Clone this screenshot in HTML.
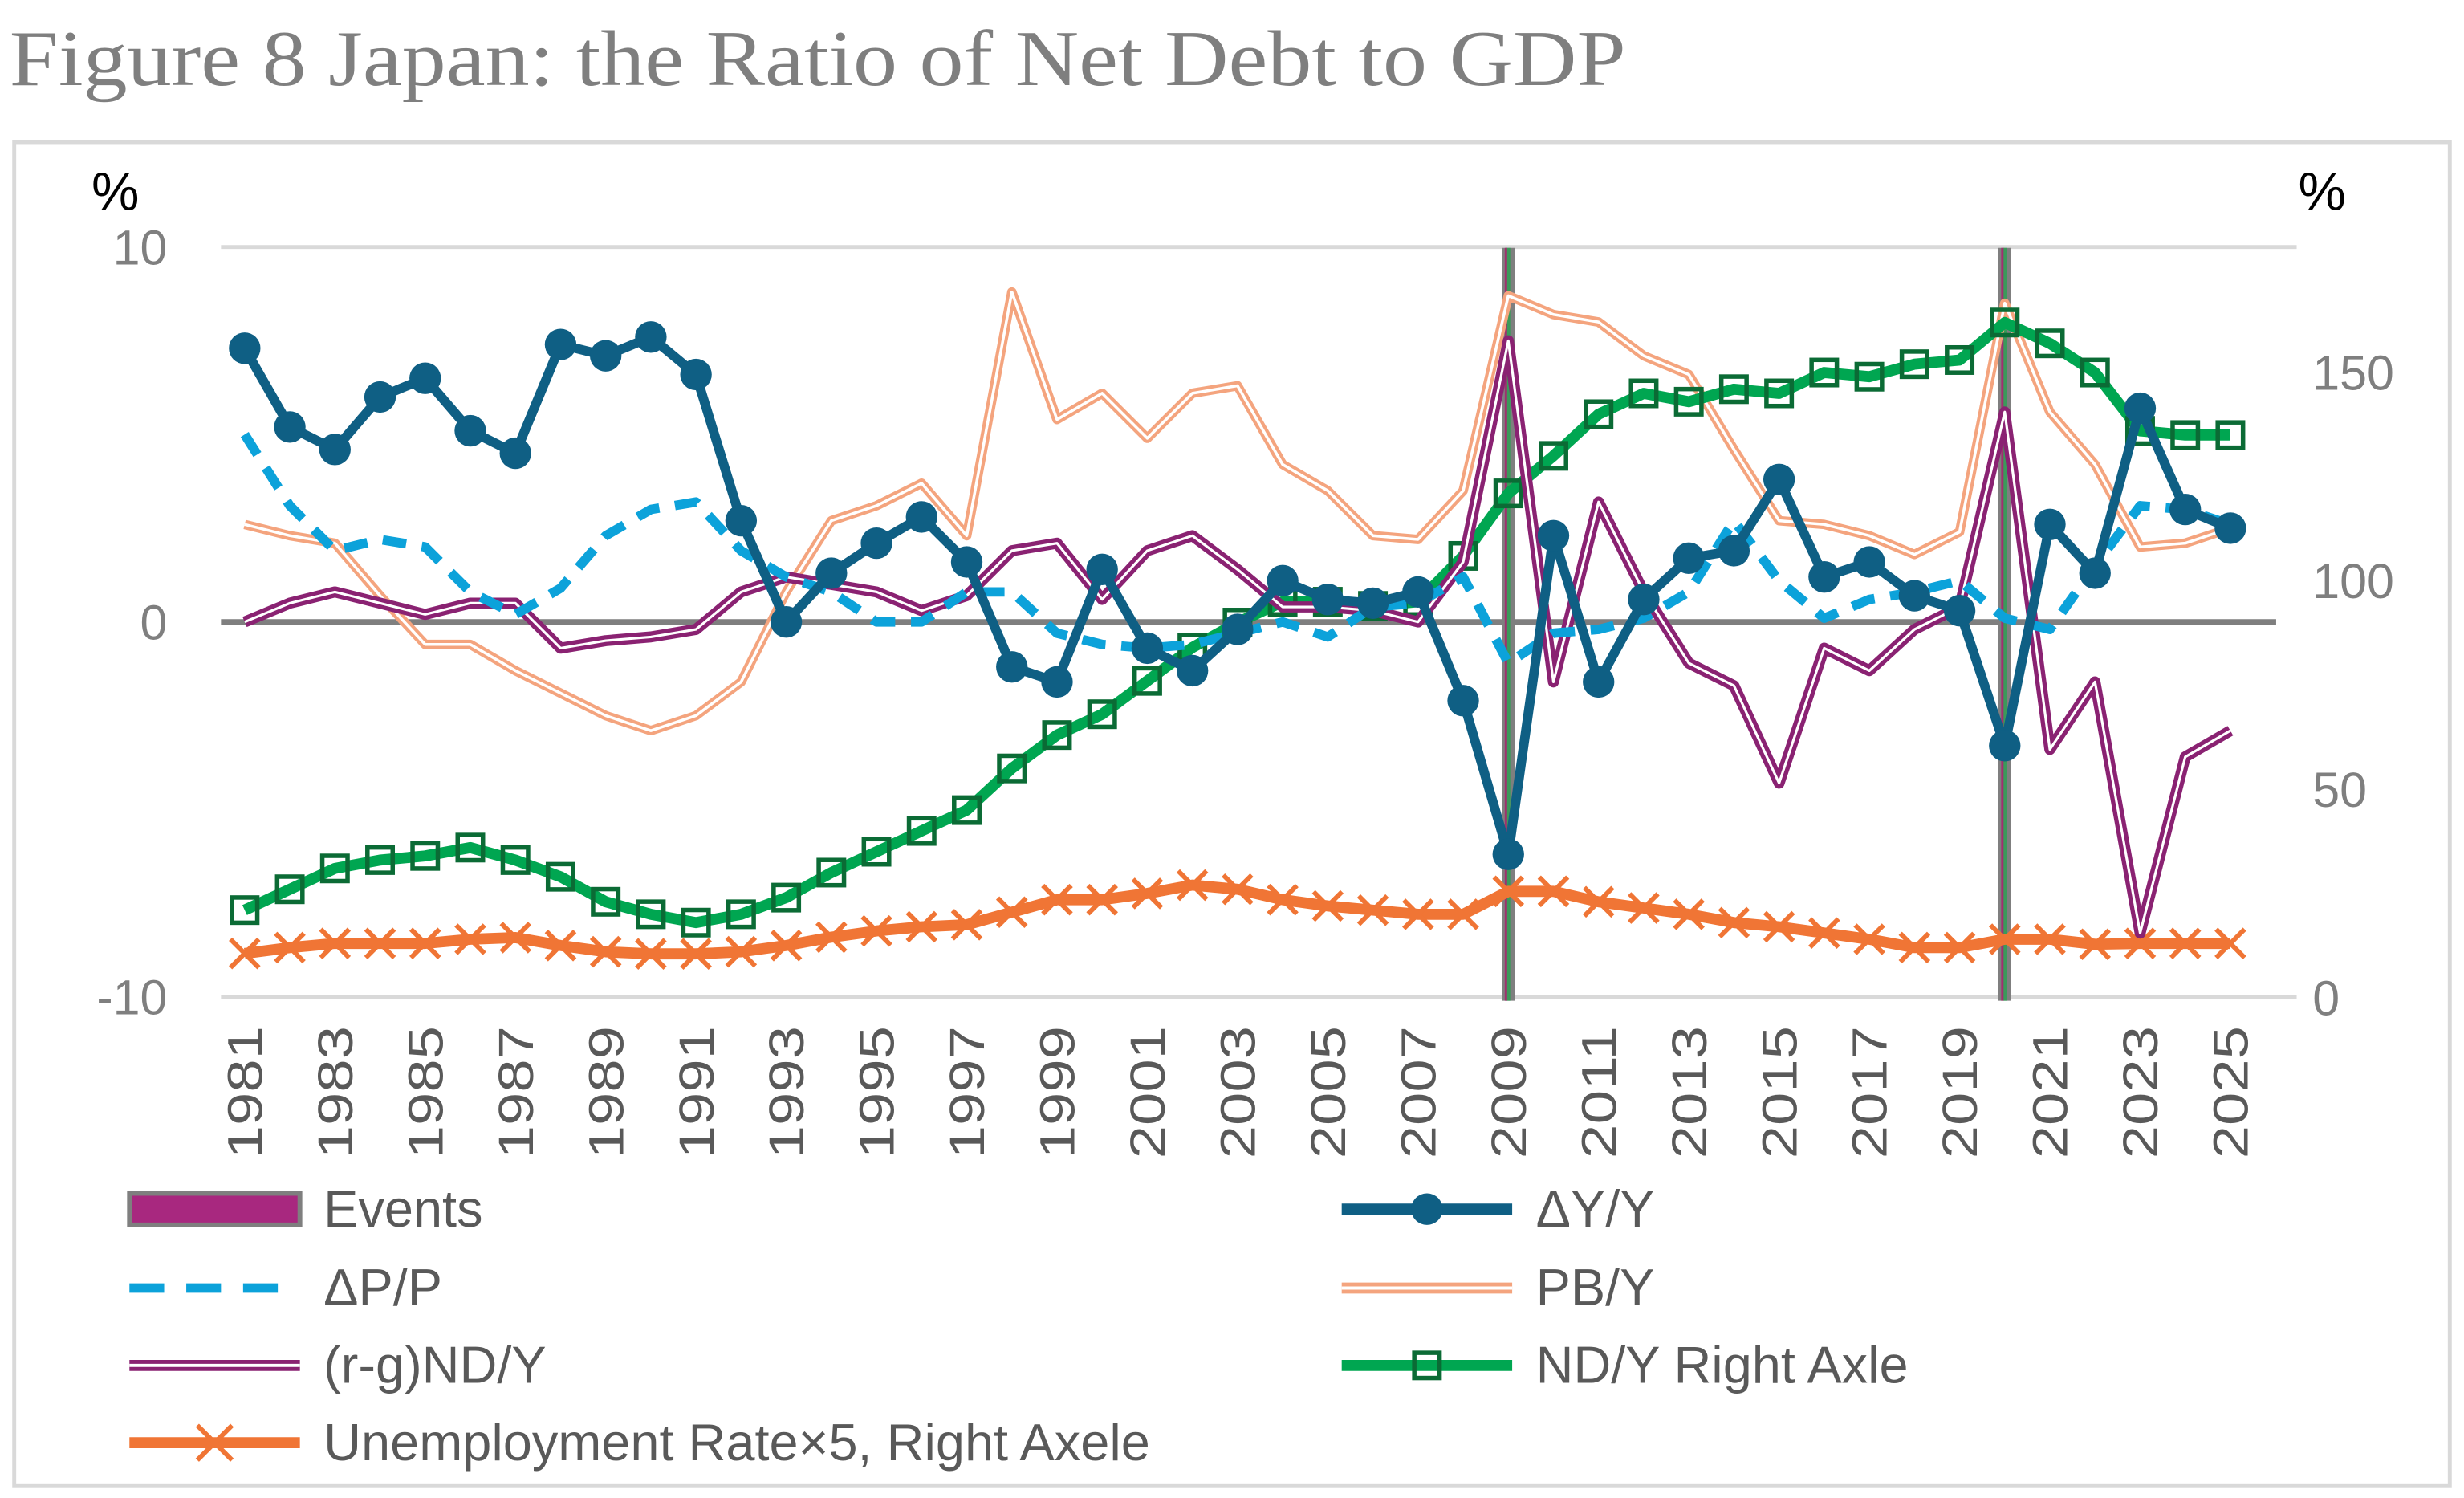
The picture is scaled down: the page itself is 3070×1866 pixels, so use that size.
<!DOCTYPE html>
<html><head><meta charset="utf-8">
<style>
html,body{margin:0;padding:0;background:#fff;}
svg{display:block;}
text{font-family:"Liberation Sans",sans-serif;}
</style></head>
<body>
<svg id="chart" width="3070" height="1866" viewBox="0 0 1561 949" preserveAspectRatio="none" xmlns="http://www.w3.org/2000/svg">
<text x="6" y="54" style="font-family:'Liberation Serif',serif" font-size="50" textLength="1024" lengthAdjust="spacingAndGlyphs" fill="#7f7f7f">Figure 8 Japan: the Ratio of Net Debt to GDP</text>
<rect x="9" y="90" width="1543" height="851" fill="none" stroke="#d9d9d9" stroke-width="2.5"/>
<g id="grid"></g>
<g id="events"></g>
<g id="series"></g>
<g id="axes"></g>
<g id="legend"></g>
</svg>
<script>
const years = [];
for (let y = 1981; y <= 2025; y++) years.push(y);
const growthY = [7.3,5.2,4.6,6.0,6.5,5.1,4.5,7.4,7.1,7.6,6.6,2.7,0.0,1.3,2.1,2.8,1.6,-1.2,-1.6,1.4,-0.7,-1.3,-0.2,1.1,0.6,0.5,0.8,-2.1,-6.2,2.3,-1.6,0.6,1.7,1.9,3.8,1.2,1.6,0.7,0.3,-3.3,2.6,1.3,5.7,3.0,2.5];
const inflP = [5.0,3.1,1.9,2.2,2.0,0.8,0.2,0.9,2.3,3.0,3.2,1.9,1.2,0.8,0.0,0.0,0.8,0.8,-0.3,-0.6,-0.7,-0.6,-0.3,0.0,-0.4,0.4,0.5,1.2,-1.1,-0.3,-0.2,0.1,0.8,2.7,1.1,0.1,0.6,0.8,1.1,0.1,-0.2,1.5,3.1,3.0,2.6];
const pbY = [2.6,2.3,2.1,0.7,-0.6,-0.6,-1.3,-1.9,-2.5,-2.9,-2.5,-1.6,0.8,2.7,3.1,3.7,2.3,8.8,5.4,6.1,4.9,6.1,6.3,4.2,3.5,2.3,2.2,3.5,8.7,8.2,8.0,7.1,6.6,4.6,2.7,2.6,2.3,1.8,2.4,8.5,5.6,4.2,2.0,2.1,2.5];
const rgND = [0.0,0.5,0.8,0.5,0.2,0.5,0.5,-0.7,-0.5,-0.4,-0.2,0.8,1.2,1.0,0.8,0.3,0.7,1.9,2.1,0.6,1.9,2.3,1.4,0.4,0.4,0.3,0.0,1.6,7.5,-1.6,3.2,0.8,-1.1,-1.7,-4.3,-0.7,-1.3,-0.2,0.4,5.6,-3.4,-1.6,-8.3,-3.6,-2.9];
const ndY = [21,26,31,33,34,36,33,29,23,20,18,20,24,30,35,40,45,55,63,68,76,84,90,95,95,94,95,106,121,130,140,145,143,146,145,150,149,152,153,162,157,150,136,135,135];
const unemp5 = [10.6,12,13,13,13,14,14.4,12.5,11,10.5,10.5,11,12.5,14.5,16,17,17.5,20.5,23.5,23.5,25,27,26,23.5,22,21,20,20,25.5,25.5,23,21.5,20,18,17,15.5,14,12,12,14,14,12.8,13,13,13];
const eventYears = [2009, 2020];
const leftTicks = [10, 0, -10];
const rightTicks = [0, 50, 100, 150];

const NS = "http://www.w3.org/2000/svg";
const X0 = 155, X1 = 1413, YL0 = 394, PXL = 23.75, YR0 = 632, PXR = 2.64;
const xs = y => X0 + (y - years[0]) * (X1 - X0) / (years[years.length-1] - years[0]);
const yl = v => YL0 - v * PXL;
const yr = v => YR0 - v * PXR;
function mk(tag, attrs, parent){const e=document.createElementNS(NS,tag);for(const k in attrs)e.setAttribute(k,attrs[k]);parent.appendChild(e);return e;}
const grid=document.getElementById('grid'), ev=document.getElementById('events'), ser=document.getElementById('series'), ax=document.getElementById('axes'), lg=document.getElementById('legend');

leftTicks.forEach(t=>{
  const l=mk('line',{x1:140,x2:t===0?1442:1455,y1:yl(t),y2:yl(t),stroke:t===0?'#7f7f7f':'#d9d9d9','stroke-width':t===0?3.5:2.5},grid);
  
  
  const tx=mk('text',{x:106,y:yl(t)+11,'text-anchor':'end','font-size':31,fill:'#7f7f7f'},ax);
  tx.textContent=String(t);
  
  
});
rightTicks.forEach(t=>{
  const tx=mk('text',{x:1465,y:yr(t)+11,'font-size':31,fill:'#7f7f7f'},ax);
  tx.textContent=String(t);
  
  
});
[[58,'left-unit-label'],[1456,'right-unit-label']].forEach(([x,n])=>{
  const tx=mk('text',{x:x,y:133,'font-size':34,fill:'#000'},ax);
  tx.textContent='%';
  
  
});
years.forEach(y=>{
  if((y-1981)%2) return;
  const tx=mk('text',{x:0,y:0,'text-anchor':'end','font-size':31,textLength:84,lengthAdjust:'spacingAndGlyphs',fill:'#595959',transform:`translate(${xs(y)+11},650) rotate(-90)`},ax);
  tx.textContent=String(y);
  
  
});
eventYears.forEach(y=>{
  const g=mk('g',{},ev);
  
  
  mk('line',{x1:xs(y),x2:xs(y),y1:157,y2:634,stroke:'#7f7f7f','stroke-width':8},g);
  mk('line',{x1:xs(y),x2:xs(y),y1:157,y2:634,stroke:'#3a9a5a','stroke-width':2.5},g);
  mk('line',{x1:xs(y)-1.5,x2:xs(y)-1.5,y1:157,y2:634,stroke:'#a0306f','stroke-width':1.5},g);
});
function pts(arr, f){return arr.map((v,i)=>xs(years[i])+','+f(v)).join(' ');}
function line(name, arr, f, attrs){
  const p=mk('polyline',Object.assign({points:pts(arr,f),fill:'none','stroke-linejoin':'round'},attrs),ser);
  
  
  return p;
}
line('pby-line',pbY,yl,{stroke:'#f4a47e','stroke-width':6});
line('pby-line-inner',pbY,yl,{stroke:'#fff','stroke-width':1.8});
line('unemployment-line',unemp5,yr,{stroke:'#f07535','stroke-width':7});
unemp5.forEach((v,i)=>{const x=xs(years[i]),y=yr(v);
  const m=mk('path',{d:`M${x-9},${y-9}L${x+9},${y+9}M${x-9},${y+9}L${x+9},${y-9}`,stroke:'#f07535','stroke-width':3},ser);
  
  });
line('ndy-line',ndY,yr,{stroke:'#00a651','stroke-width':7});
ndY.forEach((v,i)=>{const x=xs(years[i]),y=yr(v);
  const m=mk('rect',{x:x-8,y:y-8,width:16,height:16,fill:'none',stroke:'#0b6b35','stroke-width':2.8},ser);
  
  });
line('rgnd-line',rgND,yl,{stroke:'#8a2272','stroke-width':7});
line('rgnd-line-inner',rgND,yl,{stroke:'#fff','stroke-width':1.6});
line('inflation-line',inflP,yl,{stroke:'#0ca2da','stroke-width':6,'stroke-dasharray':'15 10'});
line('growth-line',growthY,yl,{stroke:'#0f5f84','stroke-width':6});
growthY.forEach((v,i)=>{
  const c=mk('circle',{cx:xs(years[i]),cy:yl(v),r:10,fill:'#0f5f84'},ser);
  
  });

function legendItem(x,y,label,kind,name){
  const g=mk('g',{},lg);
  
  
  const x1=x, x2=x+108, mx=(x1+x2)/2;
  if(kind==='events'){mk('rect',{x:x1,y:y-10,width:108,height:20,fill:'#a8287f',stroke:'#7f7f7f','stroke-width':3},g);}
  if(kind==='growth'){mk('line',{x1,x2,y1:y,y2:y,stroke:'#0f5f84','stroke-width':7},g);mk('circle',{cx:mx,cy:y,r:10,fill:'#0f5f84'},g);}
  if(kind==='infl'){mk('line',{x1,x2,y1:y,y2:y,stroke:'#0ca2da','stroke-width':6,'stroke-dasharray':'22 14'},g);}
  if(kind==='pby'){mk('line',{x1,x2,y1:y,y2:y,stroke:'#f4a47e','stroke-width':7},g);mk('line',{x1,x2,y1:y,y2:y,stroke:'#fff','stroke-width':2},g);}
  if(kind==='rg'){mk('line',{x1,x2,y1:y,y2:y,stroke:'#8a2272','stroke-width':7},g);mk('line',{x1,x2,y1:y,y2:y,stroke:'#fff','stroke-width':2},g);}
  if(kind==='nd'){mk('line',{x1,x2,y1:y,y2:y,stroke:'#00a651','stroke-width':7},g);mk('rect',{x:mx-8,y:y-8,width:16,height:16,fill:'none',stroke:'#0b6b35','stroke-width':2.8},g);}
  if(kind==='un'){mk('line',{x1,x2,y1:y,y2:y,stroke:'#f07535','stroke-width':7},g);mk('path',{d:`M${mx-11},${y-11}L${mx+11},${y+11}M${mx-11},${y+11}L${mx+11},${y-11}`,stroke:'#f07535','stroke-width':3},g);}
  const t=mk('text',{x:x2+15,y:y+11,'font-size':33,fill:'#595959'},g);
  t.textContent=label;
}
legendItem(82,766,'Events','events','legend-events');
legendItem(850,766,'\u0394Y/Y','growth','legend-growth');
legendItem(82,816,'\u0394P/P','infl','legend-inflation');
legendItem(850,816,'PB/Y','pby','legend-pby');
legendItem(82,865,'(r-g)ND/Y','rg','legend-rgnd');
legendItem(850,865,'ND/Y Right Axle','nd','legend-ndy');
legendItem(82,914,'Unemployment Rate\u00d75, Right Axele','un','legend-unemployment');
</script>
</body></html>
